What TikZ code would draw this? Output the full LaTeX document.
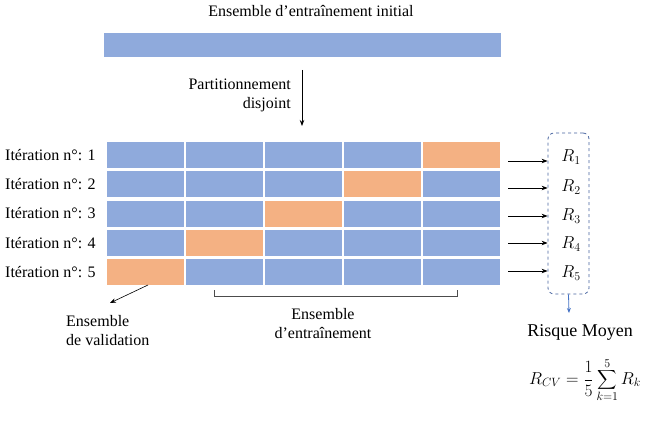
\documentclass[tikz,border=0pt]{standalone}
\usepackage{fontspec}
\usepackage{graphicx}
\setmainfont{Liberation Serif}
\usetikzlibrary{arrows.meta}
\definecolor{cblue}{HTML}{8FAADC}
\definecolor{corange}{HTML}{F4B183}
\definecolor{dashblue}{RGB}{72,100,160}
\definecolor{arrblue}{HTML}{4472C4}
\newcommand{\bigsumx}{\mathop{\vcenter{\hbox{\scalebox{1.35}{$\displaystyle\sum$}}}}\limits}
\begin{document}
\begin{tikzpicture}[x=1pt,y=-1pt,
  cell/.style={fill=cblue,draw=none,minimum width=77pt,minimum height=26pt,inner sep=0pt,anchor=north west},
  vcell/.style={cell,fill=corange},
  lbl/.style={font=\fontsize{16}{19}\selectfont,inner sep=0pt},
  rlab/.style={font=\fontsize{17}{20}\selectfont,inner sep=0pt},
  arr/.style={-{Stealth[length=6pt,width=4.5pt]},line width=0.8pt,black},
]
\useasboundingbox (0,0) rectangle (651,433);
% title and top bar
\node[lbl] (title) at (311,11) {Ensemble d’entraînement initial};
\node[fill=cblue,draw=none,inner sep=0pt,minimum width=397pt,minimum height=24pt,anchor=north west] (bar) at (104,33) {};
\node[lbl,align=right,anchor=east] (part) at (291,95) {Partitionnement\\disjoint};
\coordinate (p1) at (302,70);
\coordinate (p2) at (302,126);
\draw[arr] (p1) -- (p2);
% grid
\foreach \r in {1,...,5}{
  \foreach \c in {1,...,5}{
    \pgfmathtruncatemacro{\v}{6-\r}
    \ifnum\c=\v
      \node[vcell] (c-\r-\c) at ({107+(\c-1)*79},{142+(\r-1)*29.25}) {};
    \else
      \node[cell] (c-\r-\c) at ({107+(\c-1)*79},{142+(\r-1)*29.25}) {};
    \fi
  }
  \node[lbl,anchor=west] (it\r) at (5,{155+(\r-1)*29.25}) {Itération n°: \r};
}
% R box
\node[draw=dashblue,dashed,line width=0.8pt,rounded corners=6pt,minimum width=41pt,minimum height=161pt,inner sep=0pt] (box) at (568.5,213.5) {};
\foreach \r/\y/\ay in {1/157/161,2/187/188,3/216/216,4/244/243,5/273/271}{
  \node[rlab] (R\r) at (571,\y) {$R_{\r}$};
  \coordinate (a\r) at (508,\ay);
  \draw[arr] (a\r) -- (a\r -| box.west);
}
\coordinate (bd) at (569,313);
\draw[-{Stealth[length=5pt,width=4pt]},arrblue,line width=0.8pt] (box.south) -- (bd);
\node[font=\fontsize{18}{21}\selectfont,inner sep=0pt] (risk) at (580,332) {Risque Moyen};
\node[font=\fontsize{17.5}{21}\selectfont,inner sep=0pt] (formula) at (585,380) {$\displaystyle R_{CV}=\frac{1}{5}\bigsumx_{k=1}^{5}R_k$};
% validation
\coordinate (v1) at (148,285);
\coordinate (v2) at (110,303);
\draw[-{Stealth[length=6pt,width=4.5pt]},line width=0.6pt] (v1) -- (v2);
\node[lbl,anchor=north west] (val) at (66,313) {\begin{tabular}{@{}l@{}}Ensemble\\de validation\end{tabular}};
% training bracket
\coordinate (b1) at (214,290);
\coordinate (b2) at (457,290);
\draw[line width=0.7pt,black!70] (b1) -- ++(0,6) -| (b2);
\node[lbl,align=center] (train) at (323,324) {Ensemble\\d’entraînement};
\end{tikzpicture}
\end{document}
